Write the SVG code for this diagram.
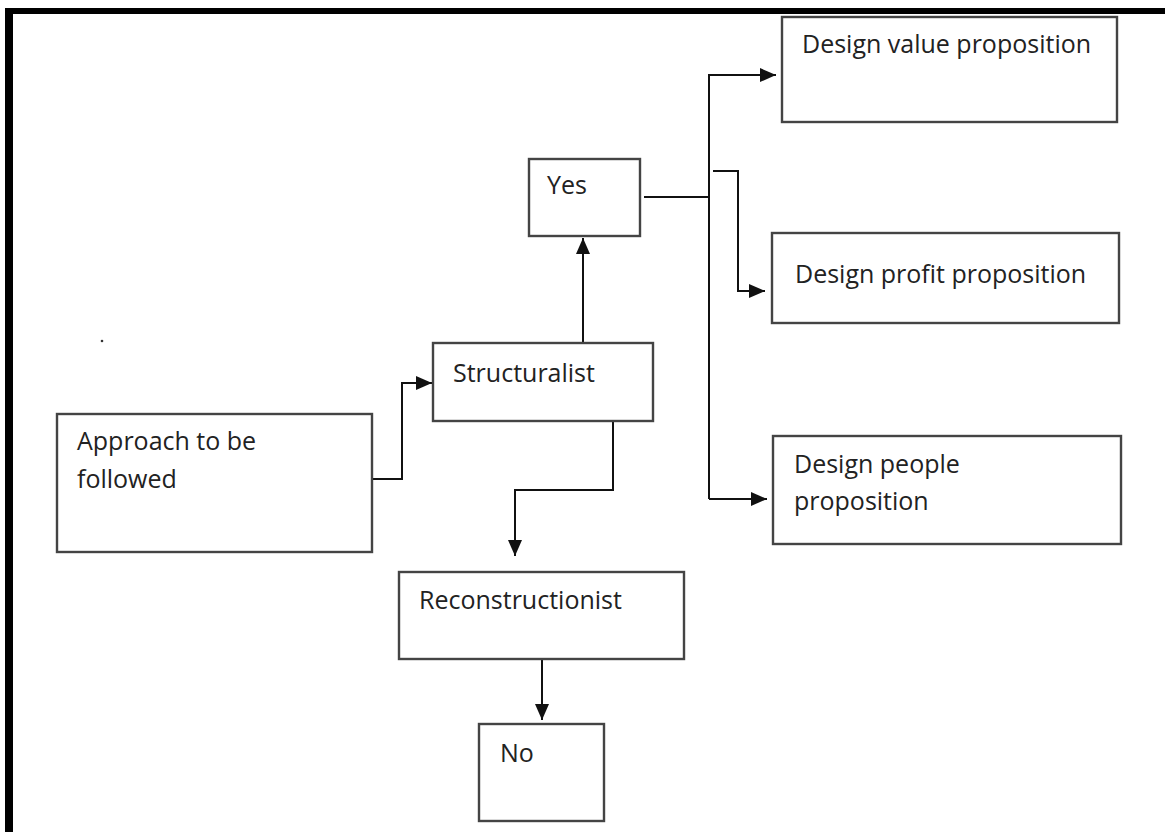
<svg xmlns="http://www.w3.org/2000/svg" width="1165" height="832" viewBox="0 0 1165 832">
<style>
.box{fill:#fff;stroke:#444;stroke-width:2.4}
.lbl{font-family:"Open Sans","Liberation Sans",sans-serif;font-size:25px;fill:#222}
.con{fill:none;stroke:#111;stroke-width:2}
</style>
<defs>
<marker id="ah" markerUnits="userSpaceOnUse" markerWidth="16" markerHeight="14" viewBox="0 0 16 14" refX="16" refY="7" orient="auto">
<path d="M0,0 L16,7 L0,14 Z" fill="#111"/>
</marker>
</defs>
<rect width="1165" height="832" fill="#fff"/>
<rect x="5" y="8" width="8" height="824" fill="#000"/>
<rect x="5" y="8" width="1160" height="6" fill="#000"/>
<circle cx="102" cy="341" r="1.3" fill="#333"/>

<g id="connectors">
<path class="con" d="M372,479 H402 V383 H432" marker-end="url(#ah)"/>
<path class="con" d="M583,343 V238" marker-end="url(#ah)"/>
<path class="con" d="M613,421 V490 H515 V556" marker-end="url(#ah)"/>
<path class="con" d="M542,659 V720" marker-end="url(#ah)"/>
<path class="con" d="M644,197 H709"/>
<path class="con" d="M709,499 V75 H776" marker-end="url(#ah)"/>
<path class="con" d="M709,499 H767" marker-end="url(#ah)"/>
<path class="con" d="M713,171 H738 V291 H765" marker-end="url(#ah)"/>
</g>

<g id="node-value">
<rect class="box" x="782" y="17" width="335" height="105"/>
<text class="lbl" x="802" y="53">Design value proposition</text>
</g>
<g id="node-yes">
<rect class="box" x="529" y="159" width="111" height="77"/>
<text class="lbl" x="547" y="194">Yes</text>
</g>
<g id="node-profit">
<rect class="box" x="772" y="233" width="347" height="90"/>
<text class="lbl" x="795" y="283">Design profit proposition</text>
</g>
<g id="node-structuralist">
<rect class="box" x="433" y="343" width="220" height="78"/>
<text class="lbl" x="453" y="382">Structuralist</text>
</g>
<g id="node-approach">
<rect class="box" x="57" y="414" width="315" height="138"/>
<text class="lbl" x="77" y="450">Approach to be</text>
<text class="lbl" x="77" y="488">followed</text>
</g>
<g id="node-people">
<rect class="box" x="773" y="436" width="348" height="108"/>
<text class="lbl" x="794" y="473">Design people</text>
<text class="lbl" x="794" y="510">proposition</text>
</g>
<g id="node-reconstructionist">
<rect class="box" x="399" y="572" width="285" height="87"/>
<text class="lbl" x="419" y="609">Reconstructionist</text>
</g>
<g id="node-no">
<rect class="box" x="479" y="724" width="125" height="97"/>
<text class="lbl" x="500" y="762">No</text>
</g>
</svg>
